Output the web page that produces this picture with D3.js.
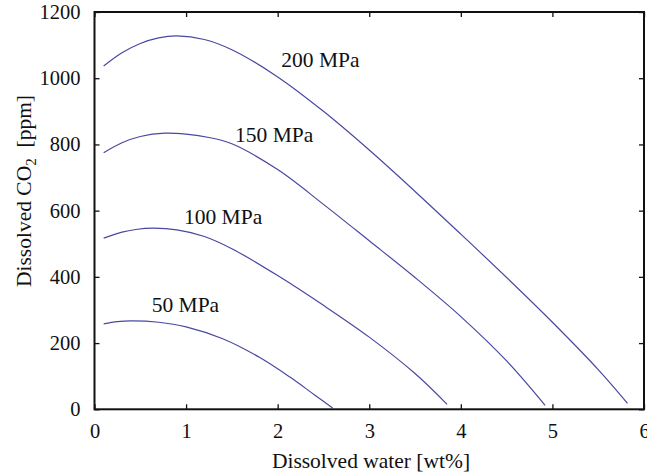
<!DOCTYPE html>
<html>
<head>
<meta charset="utf-8">
<script src="https://cdn.jsdelivr.net/npm/d3@7"></script>
<style>
  body { margin: 0; background: #fff; }
</style>
</head>
<body>
<svg id="canvas" width="647" height="476"></svg>
<script>
// datos (agua disuelta wt% vs CO2 ppm)
const x200 = [0.1, 0.3, 0.5, 0.7, 0.9, 1.2, 1.5, 2.0, 2.5, 3.0, 3.5, 4.0, 4.5, 5.0, 5.5, 5.82]
const y200 = [1037, 1077, 1105, 1122, 1128, 1117, 1086, 1004, 900, 783, 658, 529, 398, 263, 120, 18]

const x150 = [0.1, 0.3, 0.5, 0.77, 1.0, 1.25, 1.5, 2.0, 2.5, 3.0, 3.5, 4.0, 4.5, 4.92]
const y150 = [775, 805, 824, 834, 831, 821, 802, 724, 619, 509, 398, 280, 146, 12]

const x100 = [0.1, 0.3, 0.45, 0.64, 0.9, 1.2, 1.5, 2.0, 2.5, 3.0, 3.5, 3.85]
const y100 = [517, 535, 543, 547, 542, 522, 485, 404, 314, 218, 108, 15]

const x50 = [0.1, 0.25, 0.41, 0.7, 1.0, 1.4, 1.8, 2.13, 2.4, 2.6]
const y50 = [258, 265, 267, 263, 249, 213, 157, 98, 44, 4]

const etiquetas = ["200 MPa", "150 MPa", "100 MPa", "50 MPa"]
const etiquetaX = [2.04, 1.535, 0.977, 0.624]
const etiquetaY = [1035, 808, 560, 295]

const xTicks = [0, 1, 2, 3, 4, 5, 6]
const yTicks = [0, 200, 400, 600, 800, 1000, 1200]

const fuente = "Liberation Serif"
const canvas = d3.select("#canvas")

const x = d3.scaleLinear().domain([0, 6]).range([94.5, 644])
const y = d3.scaleLinear().domain([0, 1200]).range([409.3, 12])

const series = [[x200, y200], [x150, y150], [x100, y100], [x50, y50]]

const linea = d3.line()
    .x(d => x(d[0]))
    .y(d => y(d[1]))
    .curve(d3.curveCatmullRom.alpha(0.5))

// curvas
canvas.append("g")
    .selectAll("path")
    .data(series)
    .enter()
    .append("path")
    .attr("d", s => linea(s[0].map((v, i) => [v, s[1][i]])))
    .attr("fill", "none")
    .attr("stroke", "#4848a0")
    .attr("stroke-width", 1.2)

// ejes (ticks hacia adentro)
const ejeAbajo = canvas.append("g")
    .attr("transform", "translate(0," + y(0) + ")")
    .call(d3.axisBottom(x).tickValues(xTicks).tickSize(-5).tickPadding(10).tickFormat(d3.format("d")))
canvas.append("g")
    .attr("transform", "translate(0," + y(1200) + ")")
    .call(d3.axisTop(x).tickValues(xTicks).tickSize(-5).tickFormat(""))
canvas.append("g")
    .attr("transform", "translate(" + x(0) + ",0)")
    .call(d3.axisLeft(y).tickValues(yTicks).tickSize(-5).tickPadding(14).tickFormat(d3.format("d")))
canvas.append("g")
    .attr("transform", "translate(" + x(6) + ",0)")
    .call(d3.axisRight(y).tickValues(yTicks).tickSize(-5).tickFormat(""))

canvas.selectAll(".domain").remove()
canvas.selectAll("g").attr("font-family", fuente).attr("font-size", 20)
canvas.selectAll(".tick line").attr("stroke", "#111").attr("stroke-width", 1.3)
canvas.selectAll(".tick text").attr("font-family", fuente).attr("font-size", 20.5).attr("fill", "#111")
ejeAbajo.selectAll(".tick text").attr("dy", "0.95em").attr("y", 9)

// marco
canvas.append("rect")
    .attr("x", x(0))
    .attr("y", y(1200))
    .attr("width", x(6) - x(0))
    .attr("height", y(0) - y(1200))
    .attr("fill", "none")
    .attr("stroke", "#111")
    .attr("stroke-width", 2)

// etiquetas de presion
canvas.append("g")
    .selectAll("text")
    .data(etiquetas)
    .enter()
    .append("text")
    .attr("x", (d, i) => x(etiquetaX[i]))
    .attr("y", (d, i) => y(etiquetaY[i]))
    .attr("font-family", fuente)
    .attr("font-size", 21.5)
    .attr("fill", "#111")
    .text(d => d)

// titulos de ejes
canvas.append("text")
    .attr("x", 371)
    .attr("y", 468)
    .attr("text-anchor", "middle")
    .attr("font-family", fuente)
    .attr("font-size", 21.5)
    .attr("fill", "#111")
    .text("Dissolved water [wt%]")

const ty = canvas.append("text")
    .attr("transform", "translate(31,191) rotate(-90)")
    .attr("text-anchor", "middle")
    .attr("font-family", fuente)
    .attr("font-size", 21.5)
    .attr("fill", "#111")
ty.append("tspan").text("Dissolved CO")
ty.append("tspan").attr("font-size", 15).attr("dy", 5).text("2")
ty.append("tspan").attr("dy", -5).text("\u00a0 [ppm]")
</script>
</body>
</html>
